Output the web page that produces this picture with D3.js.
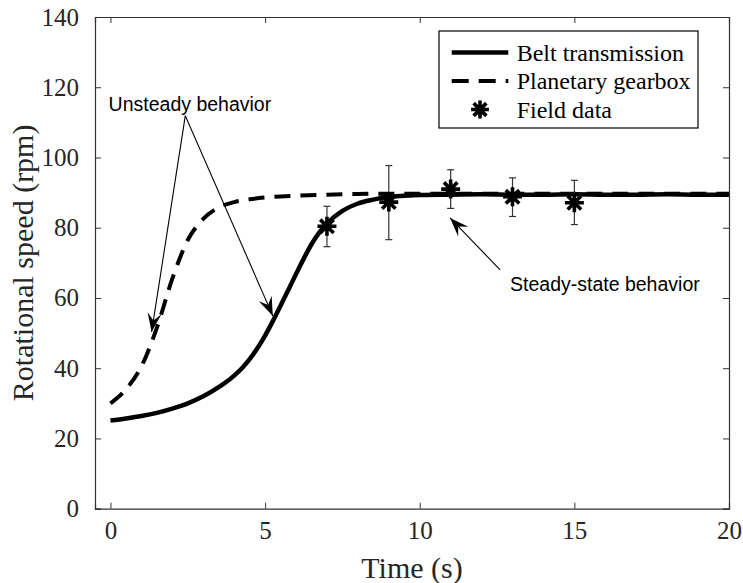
<!DOCTYPE html>
<html>
<head>
<meta charset="utf-8">
<script src="https://cdn.jsdelivr.net/npm/d3@7"></script>
<style>
  body { margin: 0; background: #fff; }
  svg { display: block; }
</style>
</head>
<body>
<div id="chart"></div>
<script>
// model curves
const beltTime  = [0, 0.5, 1, 1.5, 2, 2.5, 3, 3.5, 4, 4.25, 4.5, 4.75, 5, 5.25, 5.5, 5.75, 6, 6.25, 6.5, 6.75, 7, 7.5, 8, 8.5, 9, 9.5, 10, 11, 12, 13, 14, 15, 16, 17, 18, 19, 20];
const beltSpeed = [25.1, 25.7, 26.4, 27.3, 28.5, 30.0, 32.0, 34.6, 37.9, 40.0, 42.6, 45.7, 49.3, 53.4, 57.8, 62.3, 66.8, 71.2, 75.3, 78.6, 81.2, 84.8, 86.9, 88.0, 88.8, 89.1, 89.3, 89.4, 89.5, 89.4, 89.4, 89.5, 89.4, 89.4, 89.5, 89.4, 89.4];

const gearTime  = [0, 0.5, 1, 1.5, 2, 2.5, 3, 3.5, 4, 4.5, 5, 5.5, 6, 7, 8, 9, 10, 12, 14, 16, 18, 20];
const gearSpeed = [30.0, 34.0, 40.5, 51.5, 65.5, 76.5, 82.5, 85.8, 87.3, 88.1, 88.6, 88.9, 89.1, 89.4, 89.6, 89.7, 89.7, 89.7, 89.7, 89.7, 89.7, 89.7];

// field measurements with error bars
const fieldTime  = [7, 9, 11, 13, 15];
const fieldSpeed = [80.4, 87.3, 91.0, 88.8, 87.1];
const fieldLow   = [74.6, 76.6, 85.5, 83.2, 80.9];
const fieldHigh  = [86.1, 97.7, 96.5, 94.2, 93.5];

const xTicks = [0, 5, 10, 15, 20];
const yTicks = [0, 20, 40, 60, 80, 100, 120, 140];
const legendLabels = ["Belt transmission", "Planetary gearbox", "Field data"];

const width = 743, height = 583;
const margin = {left: 95, top: 17, right: 14, bottom: 74.3};
const w = width - margin.left - margin.right;
const h = height - margin.top - margin.bottom;

const serif = "'Liberation Serif', 'Times New Roman', serif";
const sans = "'Liberation Sans', Arial, Helvetica, sans-serif";
const axisColor = "#333";

const svg = d3.select("#chart")
  .append("svg")
  .attr("width", width)
  .attr("height", height);

const g = svg.append("g")
  .attr("transform", "translate(" + margin.left + "," + margin.top + ")");

const x = d3.scaleLinear().domain([-0.5, 20]).range([0, w]);
const y = d3.scaleLinear().domain([0, 140]).range([h, 0]);

// axes, ticks pointing inwards on all four sides
const tickLen = 6;
const axes = [
  {axis: d3.axisBottom(x).tickValues(xTicks).tickSize(-tickLen).tickPadding(13), pos: [0, h], labels: true},
  {axis: d3.axisTop(x).tickValues(xTicks).tickSize(-tickLen), pos: [0, 0], labels: false},
  {axis: d3.axisLeft(y).tickValues(yTicks).tickSize(-tickLen).tickPadding(16), pos: [0, 0], labels: true},
  {axis: d3.axisRight(y).tickValues(yTicks).tickSize(-tickLen), pos: [w, 0], labels: false}
];
axes.forEach(function (a) {
  const ax = g.append("g")
    .attr("transform", "translate(" + a.pos[0] + "," + a.pos[1] + ")")
    .call(a.axis);
  ax.select(".domain").attr("stroke", axisColor).attr("stroke-width", 1.2);
  ax.selectAll(".tick line").attr("stroke", axisColor).attr("stroke-width", 1);
  ax.selectAll(".tick text")
    .style("font-family", serif)
    .style("font-size", "25px")
    .attr("fill", "#262626");
  if (!a.labels) ax.selectAll(".tick text").remove();
});

// axis titles
g.append("text")
  .attr("x", w / 2)
  .attr("y", h + 69)
  .attr("text-anchor", "middle")
  .style("font-family", serif)
  .style("font-size", "30px")
  .attr("fill", "#262626")
  .text("Time (s)");

g.append("text")
  .attr("transform", "translate(" + (-62) + "," + (h / 2) + ") rotate(-90)")
  .attr("text-anchor", "middle")
  .style("font-family", serif)
  .style("font-size", "30px")
  .attr("fill", "#262626")
  .text("Rotational speed (rpm)");

// curves
const line = d3.line()
  .x(d => x(d[0]))
  .y(d => y(d[1]))
  .curve(d3.curveMonotoneX);

const gearData = gearTime.map((t, i) => [t, gearSpeed[i]]);
const beltData = beltTime.map((t, i) => [t, beltSpeed[i]]);

const plot = g.append("g");

plot.append("path")
  .datum(gearData)
  .attr("d", line)
  .attr("fill", "none")
  .attr("stroke", "#000")
  .attr("stroke-width", 4)
  .attr("stroke-dasharray", "16,10");

plot.append("path")
  .datum(beltData)
  .attr("d", line)
  .attr("fill", "none")
  .attr("stroke", "#000")
  .attr("stroke-width", 4.5);

// error bars
const field = fieldTime.map((t, i) => ({t: t, v: fieldSpeed[i], lo: fieldLow[i], hi: fieldHigh[i]}));
const capW = 3.5;
const bars = plot.selectAll(".errbar")
  .data(field)
  .enter()
  .append("g")
  .attr("class", "errbar")
  .attr("stroke", "#333")
  .attr("stroke-width", 1.2);

bars.append("line")
  .attr("x1", d => x(d.t)).attr("x2", d => x(d.t))
  .attr("y1", d => y(d.lo)).attr("y2", d => y(d.hi));
bars.append("line")
  .attr("x1", d => x(d.t) - capW).attr("x2", d => x(d.t) + capW)
  .attr("y1", d => y(d.lo)).attr("y2", d => y(d.lo));
bars.append("line")
  .attr("x1", d => x(d.t) - capW).attr("x2", d => x(d.t) + capW)
  .attr("y1", d => y(d.hi)).attr("y2", d => y(d.hi));

// asterisk marker
function asterisk(r) {
  const k = r * Math.SQRT1_2;
  return "M" + (-r) + ",0L" + r + ",0" +
    "M0," + (-r) + "L0," + r +
    "M" + (-k) + "," + (-k) + "L" + k + "," + k +
    "M" + (-k) + "," + k + "L" + k + "," + (-k);
}

plot.selectAll(".marker")
  .data(field)
  .enter()
  .append("path")
  .attr("class", "marker")
  .attr("transform", d => "translate(" + x(d.t) + "," + y(d.v) + ")")
  .attr("d", asterisk(9.5))
  .attr("fill", "none")
  .attr("stroke", "#000")
  .attr("stroke-width", 3.6);

// annotations with arrows
function arrow(from, to) {
  const x1 = x(from[0]), y1 = y(from[1]);
  const x2 = x(to[0]), y2 = y(to[1]);
  const ang = Math.atan2(y2 - y1, x2 - x1) * 180 / Math.PI;
  g.append("line")
    .attr("x1", x1).attr("y1", y1)
    .attr("x2", x2).attr("y2", y2)
    .attr("stroke", "#000")
    .attr("stroke-width", 1.1);
  // vback2 style head
  const L = 19, W = 7;
  g.append("path")
    .attr("transform", "translate(" + x2 + "," + y2 + ") rotate(" + ang + ")")
    .attr("d", "M0,0L" + (-L) + "," + (-W) + "L" + (-L * 0.62) + ",0L" + (-L) + "," + W + "Z")
    .attr("fill", "#000");
}

const unsteadyApex = [2.42, 111.9];
arrow(unsteadyApex, [1.33, 50.3]);
arrow(unsteadyApex, [5.25, 54.9]);
arrow([12.6, 68.0], [10.98, 82.8]);

g.append("text")
  .attr("x", x(-0.06))
  .attr("y", y(113.1))
  .style("font-family", sans)
  .style("font-size", "19.5px")
  .attr("fill", "#000")
  .text("Unsteady behavior");

g.append("text")
  .attr("x", x(12.92))
  .attr("y", y(61.9))
  .style("font-family", sans)
  .style("font-size", "19.5px")
  .attr("fill", "#000")
  .text("Steady-state behavior");

// legend
const legend = svg.append("g")
  .attr("transform", "translate(439,31)");

legend.append("rect")
  .attr("width", 259)
  .attr("height", 97)
  .attr("fill", "#fff")
  .attr("stroke", "#000")
  .attr("stroke-width", 1.2);

const rowY = [21.5, 50, 78.5];
const items = legend.selectAll(".item")
  .data(legendLabels)
  .enter()
  .append("g")
  .attr("class", "item")
  .attr("transform", (d, i) => "translate(0," + rowY[i] + ")");

items.append("text")
  .attr("x", 77.7)
  .attr("y", 8)
  .style("font-family", serif)
  .style("font-size", "24px")
  .attr("fill", "#000")
  .text(d => d);

items.filter((d, i) => i === 0).append("line")
  .attr("x1", 12.7).attr("x2", 69.3)
  .attr("stroke", "#000").attr("stroke-width", 4.5);

items.filter((d, i) => i === 1).append("line")
  .attr("x1", 12.7).attr("x2", 69.3)
  .attr("stroke", "#000").attr("stroke-width", 4)
  .attr("stroke-dasharray", "17,10");

items.filter((d, i) => i === 2).append("path")
  .attr("transform", "translate(41,0)")
  .attr("d", asterisk(9))
  .attr("fill", "none")
  .attr("stroke", "#000")
  .attr("stroke-width", 3.6);
</script>
</body>
</html>
